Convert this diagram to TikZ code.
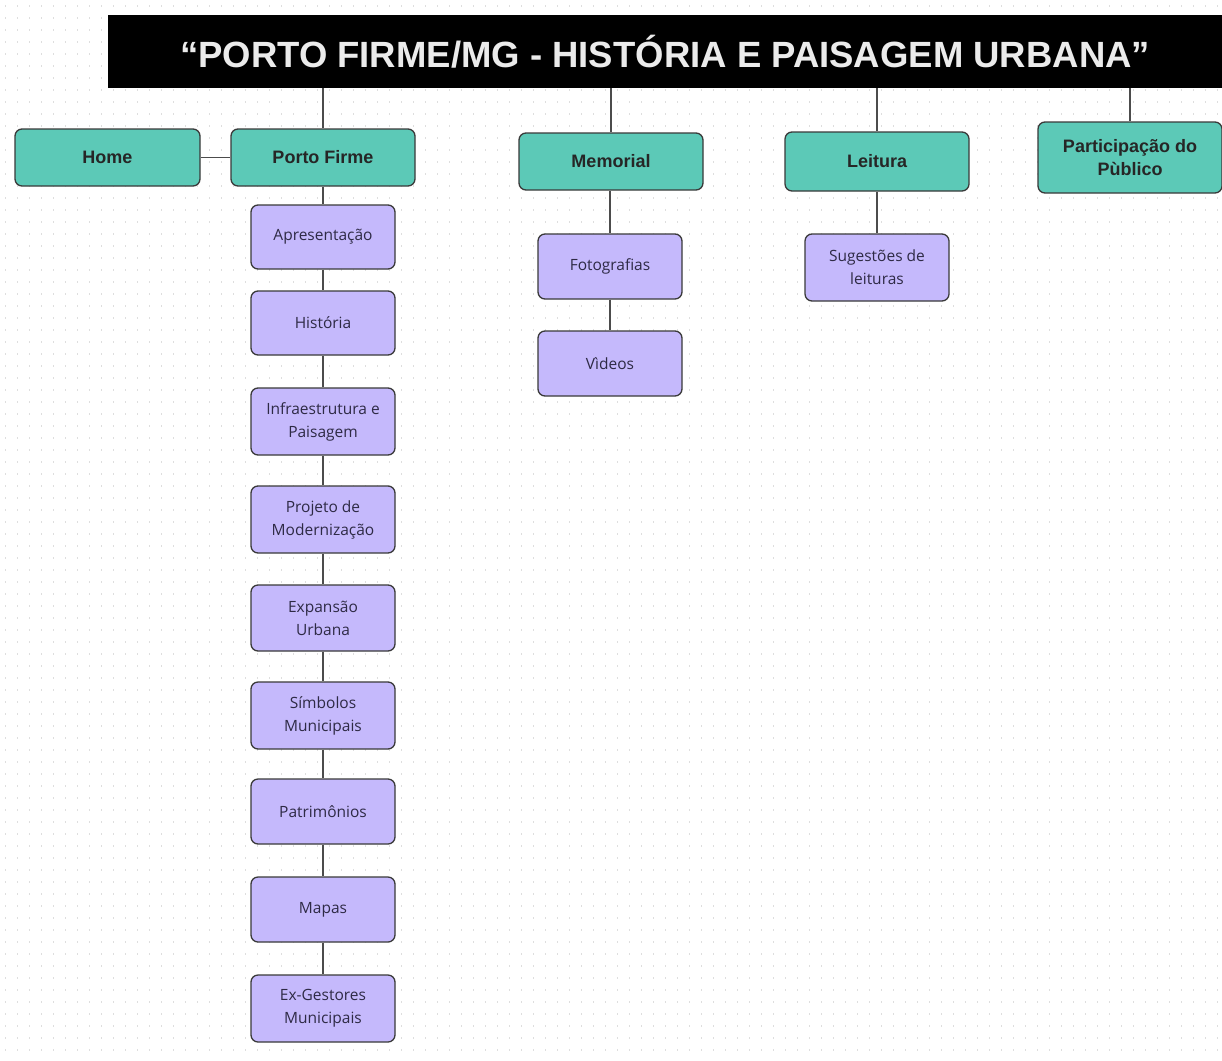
\documentclass[tikz,border=0pt]{standalone}
\usepackage{fontspec}
\setmainfont{Liberation Sans}
\newfontfamily\subfont{Open Sans}
\definecolor{teal1}{HTML}{5CC9B7}
\definecolor{lav}{HTML}{C5B9FC}
\definecolor{edge}{HTML}{3A3A3A}
\definecolor{ink}{HTML}{2E2A45}
\tikzset{
  topbox/.style={draw=edge, line width=1.3pt, fill=teal1, rounded corners=7pt, inner sep=2pt, align=center, font=\fontsize{18}{23}\selectfont\bfseries, text=black!85},
  subbox/.style={draw=edge, line width=1.3pt, fill=lav, rounded corners=7pt, minimum width=144pt, inner sep=2pt, align=center, font=\subfont\fontsize{15.5}{23}\selectfont, text=ink},
  conn/.style={draw=black!70, line width=1.1pt},
  dotrow/.style={draw=black!13, line width=1.4pt, dash pattern=on 1.4pt off 10.6pt}
}
\begin{document}
\begin{tikzpicture}[x=1pt,y=-1pt]
\useasboundingbox (0,0) rectangle (1222,1060);
\fill[white] (0,0) rectangle (1222,1060);
% dotted background
\foreach \j in {0,...,88}{
  \draw[dotrow] (5,6+\j*12) -- (1222,6+\j*12);
}
% title
\node[fill=black, minimum width=1114pt, minimum height=73pt, inner sep=0pt, text=white!92!black, font=\fontsize{36.5}{40}\selectfont\bfseries] (title) at (665,51.5) {“PORTO FIRME/MG - HISTÓRIA E PAISAGEM URBANA”};
% top level
\node[topbox, minimum width=185pt, minimum height=57pt] (home) at (107.5,157.5) {Home};
\node[topbox, minimum width=184pt, minimum height=57pt] (porto) at (323,157.5) {Porto Firme};
\node[topbox, minimum width=184pt, minimum height=57pt] (memo) at (611,161.5) {Memorial};
\node[topbox, minimum width=184pt, minimum height=59pt] (leit) at (877,161.5) {Leitura};
\node[topbox, minimum width=184pt, minimum height=71pt] (part) at (1130,157.5) {Participação do\\Pùblico};
% Porto Firme column
\node[subbox, minimum height=64pt] (a1) at (323,237) {Apresentação};
\node[subbox, minimum height=64pt] (a2) at (323,323) {História};
\node[subbox, minimum height=67pt] (a3) at (323,421.5) {Infraestrutura e\\Paisagem};
\node[subbox, minimum height=67pt] (a4) at (323,519.5) {Projeto de\\Modernização};
\node[subbox, minimum height=66pt] (a5) at (323,618) {Expansão\\Urbana};
\node[subbox, minimum height=67pt] (a6) at (323,715.5) {Símbolos\\Municipais};
\node[subbox, minimum height=65pt] (a7) at (323,811.5) {Patrimônios};
\node[subbox, minimum height=65pt] (a8) at (323,909.5) {Mapas};
\node[subbox, minimum height=67pt] (a9) at (323,1008.5) {Ex-Gestores\\Municipais};
% Memorial column
\node[subbox, minimum height=65pt] (m1) at (610,266.5) {Fotografias};
\node[subbox, minimum height=65pt] (m2) at (610,363.5) {Vìdeos};
% Leitura column
\node[subbox, minimum height=67pt] (l1) at (877,267.5) {Sugestões de\\leituras};
% connectors
\draw[conn] (title.south -| porto.north) -- (porto.north);
\draw[conn] (title.south -| memo.north) -- (memo.north);
\draw[conn] (title.south -| leit.north) -- (leit.north);
\draw[conn] (title.south -| part.north) -- (part.north);
\draw[conn] (home.east) -- (porto.west);
\draw[conn] (porto.south) -- (a1.north);
\draw[conn] (a1.south) -- (a2.north);
\draw[conn] (a2.south) -- (a3.north);
\draw[conn] (a3.south) -- (a4.north);
\draw[conn] (a4.south) -- (a5.north);
\draw[conn] (a5.south) -- (a6.north);
\draw[conn] (a6.south) -- (a7.north);
\draw[conn] (a7.south) -- (a8.north);
\draw[conn] (a8.south) -- (a9.north);
\draw[conn] (memo.south -| m1.north) -- (m1.north);
\draw[conn] (m1.south) -- (m2.north);
\draw[conn] (leit.south) -- (l1.north);
\end{tikzpicture}
\end{document}
